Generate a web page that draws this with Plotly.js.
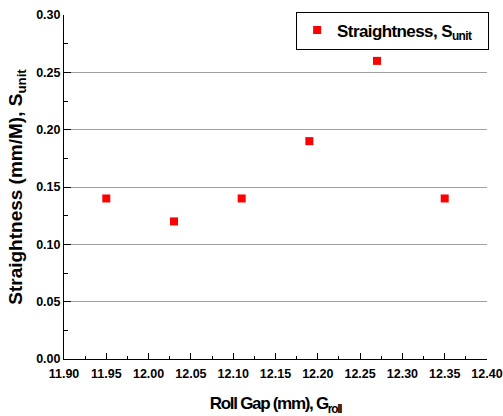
<!DOCTYPE html>
<html>
<head>
<meta charset="utf-8">
<script src="https://cdn.plot.ly/plotly-3.0.1.min.js"></script>
<style>
  html, body { margin: 0; padding: 0; background: #fff; }
  #chart { width: 503px; height: 416px; }
  /* tighter letter spacing for the axis titles and legend, like a condensed face */
  #chart .xtitle { letter-spacing: -1.3px; }
  #chart .legendtext { letter-spacing: -0.6px; }
</style>
</head>
<body>
<div id="chart"></div>
<script>
// Roll gap settings (mm) and measured straightness (mm/M)
const rollGap = [11.95, 12.03, 12.11, 12.19, 12.27, 12.35];
const straightness = [0.14, 0.12, 0.14, 0.19, 0.26, 0.14];
const seriesName = 'Straightness, S<sub>unit</sub>';
const xTitle = 'Roll Gap (mm), G<sub>roll</sub>';
const yTitle = 'Straightness (mm/M), S<sub>unit</sub>';

const font = 'Arial, "Liberation Sans", sans-serif';

const trace = {
  x: rollGap,
  y: straightness,
  name: seriesName,
  type: 'scatter',
  mode: 'markers',
  marker: { symbol: 'square', size: 8, color: '#ff0000' },
  showlegend: true
};

const layout = {
  width: 503,
  height: 416,
  margin: { l: 64, r: 16, t: 15, b: 57 },
  paper_bgcolor: '#ffffff',
  plot_bgcolor: '#ffffff',
  font: { family: font, color: '#000', size: 12 },
  showlegend: true,
  legend: {
    x: 1.005, y: 1.01, xanchor: 'right', yanchor: 'top',
    bgcolor: '#ffffff', bordercolor: '#000', borderwidth: 1,
    font: { family: font, size: 17, color: '#000', weight: 'bold' },
    itemwidth: 30
  },
  xaxis: {
    range: [11.9, 12.4],
    dtick: 0.05, tick0: 11.9,
    tickformat: '.2f',
    showgrid: false, zeroline: false,
    showline: true, linecolor: '#000', linewidth: 1,
    ticks: 'inside', ticklen: 6, tickcolor: '#000',
    minor: { dtick: 0.025, ticks: 'inside', ticklen: 3, tickcolor: '#000', showgrid: false },
    tickfont: { family: font, size: 12.5, weight: 'bold' },
    ticklabelstandoff: 3,
    ticklabeloverflow: 'allow',
    title: { text: xTitle, font: { family: font, size: 17, weight: 'bold' }, standoff: 18 }
  },
  yaxis: {
    range: [0, 0.3],
    dtick: 0.05, tick0: 0,
    tickformat: '.2f',
    showgrid: true, gridcolor: '#a0a0a0', gridwidth: 1,
    zeroline: false,
    showline: true, linecolor: '#000', linewidth: 1,
    ticks: 'inside', ticklen: 7, tickcolor: '#000',
    minor: { dtick: 0.025, ticks: 'inside', ticklen: 4, tickcolor: '#000', showgrid: false },
    tickfont: { family: font, size: 12.5, weight: 'bold' },
    title: { text: yTitle, font: { family: font, size: 19, weight: 'bold' }, standoff: 8 }
  }
};

Plotly.newPlot('chart', [trace], layout, { displayModeBar: false, staticPlot: true });
</script>
</body>
</html>
